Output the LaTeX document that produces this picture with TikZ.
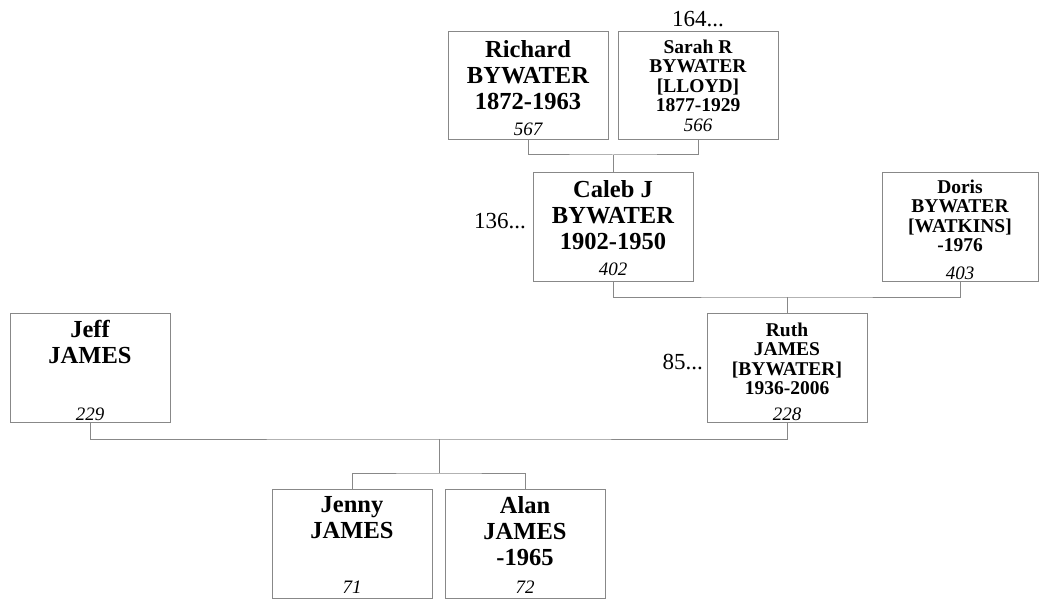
\documentclass[tikz,border=0pt]{standalone}
\usepackage{fontspec}
\setmainfont{Liberation Serif}
\usetikzlibrary{positioning}

\definecolor{linegray}{RGB}{136,136,136}

\begin{document}
\begin{tikzpicture}[x=1pt,y=-1pt,
  person/.style={draw=linegray,line width=1pt,minimum width=160pt,minimum height=108.5pt,inner sep=0pt,anchor=north},
  bigname/.style={anchor=north,align=center,inner sep=0pt,font=\bfseries\fontsize{24.5}{26}\selectfont},
  smallname/.style={anchor=north,align=center,inner sep=0pt,font=\bfseries\fontsize{19.5}{19.5}\selectfont},
  idno/.style={anchor=base,inner sep=0pt,font=\itshape\fontsize{19}{19}\selectfont},
  more/.style={anchor=base east,inner sep=0pt,font=\fontsize{23}{23}\selectfont},
  link/.style={draw=linegray,line width=1pt}]
\useasboundingbox (0,0) rectangle (1039,599);
% boxes
\node[person] (richard) at (528,31) {};
\node[person] (sarah) at (698,31) {};
\node[person] (caleb) at (613,172) {};
\node[person,minimum width=156pt] (doris) at (960,172) {};
\node[person] (jeff) at (90,313) {};
\node[person] (ruth) at (787,313) {};
\node[person] (jenny) at (352,489) {};
\node[person] (alan) at (525,489) {};
% names
\node[bigname] (richard-t) at ([yshift=-9.3pt]richard.north) {Richard\\BYWATER\\1872-1963};
\node[smallname] (sarah-t) at ([yshift=-8.3pt]sarah.north) {Sarah R\\BYWATER\\{[LLOYD]}\\1877-1929};
\node[bigname] (caleb-t) at ([yshift=-8.3pt]caleb.north) {Caleb J\\BYWATER\\1902-1950};
\node[smallname] (doris-t) at ([yshift=-7.3pt]doris.north) {Doris\\BYWATER\\{[WATKINS]}\\-1976};
\node[bigname] (jeff-t) at ([yshift=-7.3pt]jeff.north) {Jeff\\JAMES};
\node[smallname] (ruth-t) at ([yshift=-9.3pt]ruth.north) {Ruth\\JAMES\\{[BYWATER]}\\1936-2006};
\node[bigname] (jenny-t) at ([yshift=-7.3pt]jenny.north) {Jenny\\JAMES};
\node[bigname] (alan-t) at ([yshift=-7.3pt]alan.north) {Alan\\JAMES\\-1965};
% numbers
\node[idno] (richard-n) at ([yshift=5pt]richard.south) {567};
\node[idno] (sarah-n) at ([yshift=9pt]sarah.south) {566};
\node[idno] (caleb-n) at ([yshift=6pt]caleb.south) {402};
\node[idno] (doris-n) at ([yshift=2pt]doris.south) {403};
\node[idno] (jeff-n) at ([yshift=2pt]jeff.south) {229};
\node[idno] (ruth-n) at ([yshift=2pt]ruth.south) {228};
\node[idno] (jenny-n) at ([yshift=5pt]jenny.south) {71};
\node[idno] (alan-n) at ([yshift=5pt]alan.south) {72};
% more ancestors
\node[more,anchor=base] (sarah-more) at ([yshift=4pt]sarah.north) {164...};
\node[more] (caleb-more) at (526,228) {136...};
\node[more] (ruth-more) at (703,369) {85...};
% family lines
\coordinate (p1) at (caleb.north |- 0,155);
\draw[link] (richard.south) |- (p1) -| (sarah.south);
\draw[link] (p1) -- (caleb.north);
\coordinate (p2) at (ruth.north |- 0,297);
\draw[link] (caleb.south) |- (p2) -| (doris.south);
\draw[link] (p2) -- (ruth.north);
\coordinate (p3) at (439,439);
\draw[link] (jeff.south) |- (p3) -| (ruth.south);
\coordinate (p4) at (439,473);
\draw[link] (p3) -- (p4);
\draw[link] (jenny.north) |- (p4) -| (alan.north);
\end{tikzpicture}
\end{document}
